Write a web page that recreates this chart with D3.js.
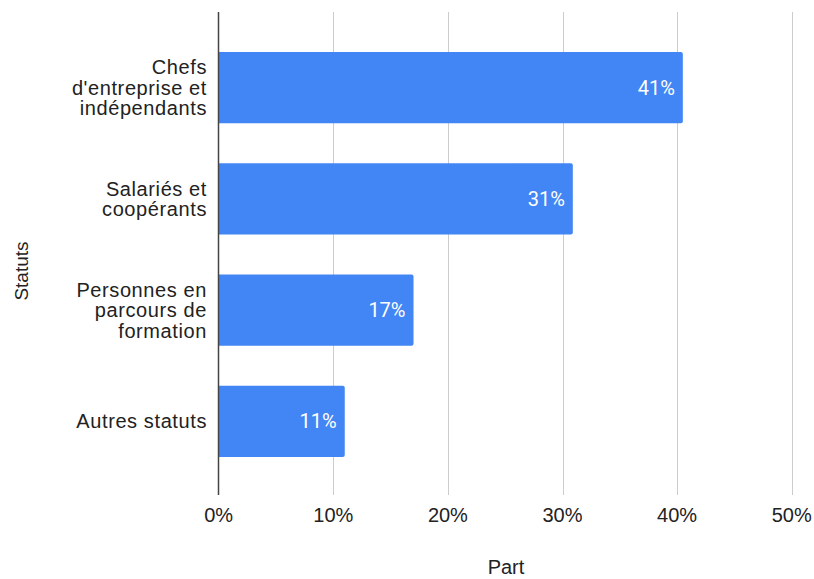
<!DOCTYPE html>
<html>
<head>
<meta charset="utf-8">
<script src="https://cdn.jsdelivr.net/npm/d3@7"></script>
<style>
  body { margin: 0; background: #fff; }
  svg { display: block; font-family: Arial, "Liberation Sans", sans-serif; }
</style>
</head>
<body>
<svg id="chart" width="814" height="579"></svg>
<script>
// chart data
var categories = [
  ["Chefs", "d'entreprise et", "indépendants"],
  ["Salariés et", "coopérants"],
  ["Personnes en", "parcours de", "formation"],
  ["Autres statuts"]
];
var values = [40.5, 30.9, 17, 11];
var ticks = [0, 10, 20, 30, 40, 50];

var barColor = "#4285f4";
var gridColor = "#cccccc";
var textColor = "#222222";

var svg = d3.select("#chart");

var x = d3.scaleLinear()
  .domain([0, 50])
  .range([218.7, 791.7]);

var y = d3.scaleBand()
  .domain(d3.range(values.length))
  .range([12, 497])
  .paddingInner(0.36)
  .paddingOuter(0.36);

//gridlines
svg.append("g")
  .selectAll("line")
  .data(ticks.slice(1))
  .enter().append("line")
  .attr("x1", function(d){ return Math.round(x(d)) + 0.5; })
  .attr("x2", function(d){ return Math.round(x(d)) + 0.5; })
  .attr("y1", 12)
  .attr("y2", 495)
  .attr("stroke", gridColor)
  .attr("stroke-width", 1);

//bars (rounded right corners)
svg.append("g")
  .selectAll("path")
  .data(values)
  .enter().append("path")
  .attr("fill", barColor)
  .attr("d", function(d, i){
    var x0 = x(0), x1 = x(d), y0 = y(i), h = y.bandwidth(), r = 2;
    return "M" + x0 + "," + y0 +
      "H" + (x1 - r) +
      "Q" + x1 + "," + y0 + " " + x1 + "," + (y0 + r) +
      "V" + (y0 + h - r) +
      "Q" + x1 + "," + (y0 + h) + " " + (x1 - r) + "," + (y0 + h) +
      "H" + x0 + "Z";
  });

//value labels
svg.append("g")
  .selectAll("text")
  .data(values)
  .enter().append("text")
  .attr("x", function(d){ return x(d) - 8; })
  .attr("y", function(d, i){ return y(i) + y.bandwidth() / 2; })
  .attr("dy", "0.35em")
  .attr("text-anchor", "end")
  .attr("fill", "#ffffff")
  .style("font-family", "Roboto, Arial, sans-serif")
  .style("font-size", "20px")
  .text(function(d){ return Math.round(d) + "%"; });

//y axis line
svg.append("line")
  .attr("x1", 218.5).attr("x2", 218.5)
  .attr("y1", 12).attr("y2", 495)
  .attr("stroke", "#444444")
  .attr("stroke-width", 1.5);

//category labels
var lineH = 20.5;
svg.append("g")
  .selectAll("text")
  .data(categories)
  .enter().append("text")
  .attr("text-anchor", "end")
  .attr("fill", textColor)
  .style("font-size", "20px")
  .style("letter-spacing", "0.6px")
  .attr("y", function(d, i){ return y(i) + y.bandwidth() / 2 - (d.length - 1) * lineH / 2; })
  .each(function(d){
    var t = d3.select(this);
    d.forEach(function(line, j){
      t.append("tspan")
        .attr("x", 207)
        .attr("dy", j == 0 ? "0.35em" : lineH)
        .text(line);
    });
  });

//x tick labels
svg.append("g")
  .selectAll("text")
  .data(ticks)
  .enter().append("text")
  .attr("x", function(d){ return x(d); })
  .attr("y", 515)
  .attr("dy", "0.35em")
  .attr("text-anchor", "middle")
  .attr("fill", textColor)
  .style("font-size", "20px")
  .text(function(d){ return d + "%"; });

//axis titles
svg.append("text")
  .attr("x", 506)
  .attr("y", 567)
  .attr("dy", "0.35em")
  .attr("text-anchor", "middle")
  .attr("fill", textColor)
  .style("font-size", "20px")
  .text("Part");

svg.append("text")
  .attr("transform", "translate(21,271) rotate(-90)")
  .attr("dy", "0.35em")
  .attr("text-anchor", "middle")
  .attr("fill", textColor)
  .style("font-size", "19px")
  .text("Statuts");
</script>
</body>
</html>
